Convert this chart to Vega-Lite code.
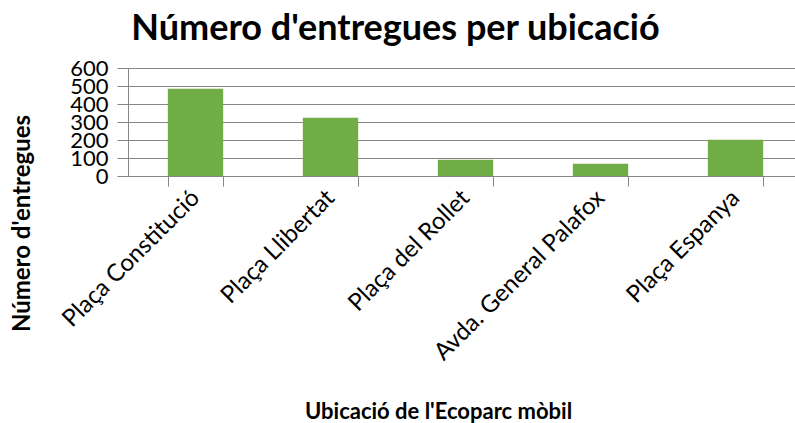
{
  "$schema": "https://vega.github.io/schema/vega-lite/v6.json",
  "autosize": {"type": "none"},
  "width": 667,
  "height": 108,
  "padding": {"left": 128, "top": 68, "right": 0, "bottom": 247},
  "background": "white",
  "title": {
    "text": "Número d'entregues per ubicació",
    "font": "Lato",
    "fontSize": 36,
    "fontWeight": "bold",
    "color": "#000000",
    "anchor": "middle",
    "dx": -66,
    "offset": 9
  },
  "data": {
    "values": [
      {"ubicacio": "Plaça Constitució", "entregues": 485},
      {"ubicacio": "Plaça Llibertat", "entregues": 324},
      {"ubicacio": "Plaça del Rollet", "entregues": 90},
      {"ubicacio": "Avda. General Palafox", "entregues": 68},
      {"ubicacio": "Plaça Espanya", "entregues": 201}
    ]
  },
  "mark": {"type": "bar", "color": "#70AD47"},
  "encoding": {
    "x": {
      "field": "ubicacio",
      "type": "nominal",
      "sort": null,
      "scale": {"range": [0, 675], "paddingInner": 0.59, "paddingOuter": 0.295},
      "axis": {
        "title": "Ubicació de l'Ecoparc mòbil",
        "titleFont": "Lato",
        "titleFontSize": 22,
        "titleFontWeight": "bold",
        "titleColor": "#000000",
        "titleX": 310,
        "titleY": 242,
        "titleAnchor": null,
        "titleAlign": "center",
        "titleBaseline": "alphabetic",
        "labelAngle": -45,
        "labelAlign": "right",
        "labelBaseline": "middle",
        "labelFont": "Lato",
        "labelFontSize": 24,
        "labelColor": "#000000",
        "labelPadding": 8,
        "labelLimit": 0,
        "tickBand": "extent",
        "tickSize": 10,
        "tickColor": "#868686",
        "domainColor": "#868686",
        "domainWidth": 1,
        "grid": false
      }
    },
    "y": {
      "field": "entregues",
      "type": "quantitative",
      "scale": {"domain": [0, 600], "nice": false},
      "axis": {
        "title": "Número d'entregues",
        "titleFont": "Lato",
        "titleFontSize": 24,
        "titleFontWeight": "bold",
        "titleColor": "#000000",
        "titleAngle": -90,
        "titleX": -106,
        "titleY": 155,
        "titleAlign": "center",
        "titleBaseline": "middle",
        "values": [0, 100, 200, 300, 400, 500, 600],
        "labelFont": "Lato",
        "labelFontSize": 22,
        "labelColor": "#000000",
        "labelPadding": 9,
        "labelBaseline": "middle",
        "tickSize": 11,
        "tickColor": "#868686",
        "domainColor": "#868686",
        "grid": true,
        "gridColor": "#868686",
        "gridWidth": 1
      }
    }
  },
  "config": {
    "view": {"stroke": null},
    "axis": {"labelOverlap": false}
  }
}
